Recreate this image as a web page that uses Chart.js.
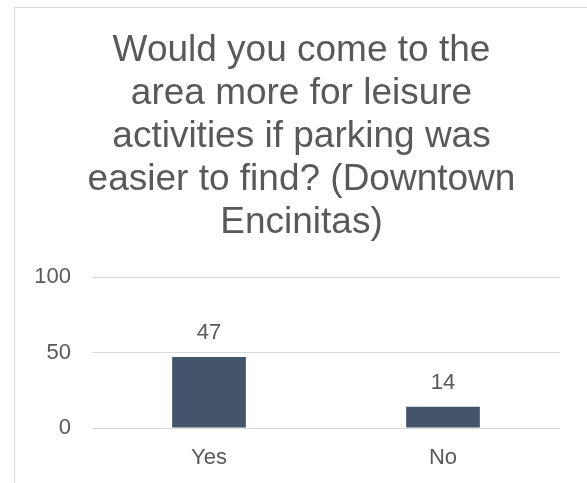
<!DOCTYPE html>
<html>
<head>
<meta charset="utf-8">
<script src="https://cdn.jsdelivr.net/npm/chart.js@4"></script>
<style>
    html, body { margin: 0; padding: 0; background: #fff; overflow: hidden; }
    #frame {
        position: absolute; left: 14px; top: 7px; width: 620px; height: 520px;
        border: 1px solid #d9d9d9; box-sizing: border-box;
    }
    #chart { position: absolute; left: 0; top: 0; }
</style>
</head>
<body>
<div id="frame"></div>
<canvas id="chart" width="587" height="483"></canvas>
<script>
const titleLines = ['Would you come to the', 'area more for leisure', 'activities if parking was', 'easier to find? (Downtown', 'Encinitas)'];
const categories = ['Yes', 'No'];
const responses = [47, 14];
const yTicks = [0, 50, 100];

const textGray = '#595959';
const fontFamily = '"Liberation Sans", Arial, sans-serif';

// value labels above each bar
const barLabels = {
    id: 'barLabels',
    afterDatasetsDraw(chart) {
        const ctx = chart.ctx;
        const meta = chart.getDatasetMeta(0);
        ctx.save();
        ctx.fillStyle = textGray;
        ctx.font = '22px ' + fontFamily;
        ctx.textAlign = 'center';
        ctx.textBaseline = 'middle';
        meta.data.forEach((bar, i) => {
            ctx.fillText(String(responses[i]), bar.x, bar.y - 24);
        });
        ctx.restore();
    }
};

new Chart(document.getElementById('chart').getContext('2d'), {
    type: 'bar',
    data: {
        labels: categories,
        datasets: [{
            data: responses,
            backgroundColor: '#44546A',
            categoryPercentage: 1,
            barPercentage: 0.315
        }]
    },
    options: {
        responsive: false,
        animation: false,
        layout: { padding: { left: 16, right: 0, top: 0, bottom: 13 } },
        plugins: {
            legend: { display: false },
            tooltip: { enabled: false },
            title: {
                display: true,
                text: titleLines,
                color: textGray,
                font: { family: fontFamily, size: 37, weight: 'normal', lineHeight: '43px' },
                padding: { top: 29, bottom: 33 }
            }
        },
        scales: {
            x: {
                afterFit: axis => { axis.height = 42; },
                grid: { display: false, drawTicks: false },
                border: { display: false },
                ticks: { color: textGray, font: { family: fontFamily, size: 22 }, padding: 17 }
            },
            y: {
                min: 0,
                max: 100,
                afterFit: axis => { axis.width = 76; },
                afterBuildTicks: axis => { axis.ticks = yTicks.map(v => ({ value: v })); },
                grid: { color: '#d9d9d9', lineWidth: 1, drawTicks: false },
                border: { display: false },
                ticks: { color: textGray, font: { family: fontFamily, size: 22 }, padding: 21 }
            },
            // empty right-hand margin so the plot ends where the reference does
            yRight: {
                type: 'linear',
                position: 'right',
                afterFit: axis => { axis.width = 27; },
                grid: { display: false, drawTicks: false },
                border: { display: false },
                ticks: { display: false }
            }
        }
    },
    plugins: [barLabels]
});
</script>
</body>
</html>
